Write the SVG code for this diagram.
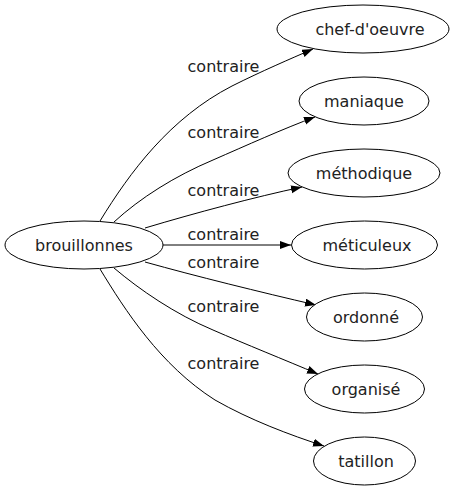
<svg xmlns="http://www.w3.org/2000/svg" width="457" height="491" viewBox="0 0 457 491">
<defs>
<marker id="ah" markerUnits="userSpaceOnUse" markerWidth="12" markerHeight="9" refX="11" refY="4" orient="auto">
<path d="M0,0 L11,4 L0,8 z" fill="#000"/>
</marker>
<style>
.n ellipse{fill:#fff;stroke:#000;stroke-width:1}
text{font-family:"DejaVu Sans",sans-serif;font-size:16px;fill:#222;text-anchor:middle}
.e path{fill:none;stroke:#000;stroke-width:1;marker-end:url(#ah)}
</style>
</defs>
<rect width="457" height="491" fill="#fff"/>
<g id="edges" class="e">
<path d="M100,221 C130,172 170,118 232,86 C262,71 290,59 313,49"/>
<path d="M114,222 C140,198 175,176 213,160 C245,146 285,128 315,117"/>
<path d="M145,228 C195,213 255,197 302,187"/>
<path d="M163,245 L291,245"/>
<path d="M145,262 C195,276 260,292 316,305"/>
<path d="M114,268 C140,290 175,314 213,330 C245,344 285,360 318,374"/>
<path d="M100,269 C125,310 160,365 215,400 C250,420 290,435 324,446"/>
<text x="223.5" y="72">contraire</text>
<text x="223.5" y="138">contraire</text>
<text x="223.5" y="196">contraire</text>
<text x="223.5" y="240">contraire</text>
<text x="223.5" y="268">contraire</text>
<text x="223.5" y="312">contraire</text>
<text x="223.5" y="369">contraire</text>
</g>
<g id="brouillonnes" class="n"><ellipse cx="84" cy="245" rx="79" ry="24"/><text x="84" y="251">brouillonnes</text></g>
<g id="chef-doeuvre" class="n"><ellipse cx="363" cy="29" rx="86" ry="24"/><text x="370" y="35">chef-d'oeuvre</text></g>
<g id="maniaque" class="n"><ellipse cx="364" cy="101" rx="65" ry="24"/><text x="364" y="107">maniaque</text></g>
<g id="methodique" class="n"><ellipse cx="364" cy="173" rx="76" ry="24"/><text x="364" y="179">méthodique</text></g>
<g id="meticuleux" class="n"><ellipse cx="364.5" cy="245" rx="73" ry="24"/><text x="367" y="251">méticuleux</text></g>
<g id="ordonne" class="n"><ellipse cx="364.5" cy="317" rx="58" ry="24"/><text x="366" y="323">ordonné</text></g>
<g id="organise" class="n"><ellipse cx="364.5" cy="389" rx="60" ry="24"/><text x="366" y="395">organisé</text></g>
<g id="tatillon" class="n"><ellipse cx="364.5" cy="461" rx="51" ry="24"/><text x="366" y="467">tatillon</text></g>
</svg>
